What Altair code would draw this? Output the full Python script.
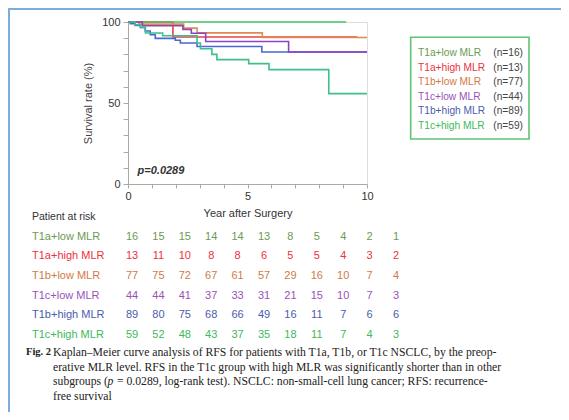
import altair as alt
import pandas as pd

# ---------------- data ----------------
groups = ["T1a+low MLR", "T1a+high MLR", "T1b+low MLR", "T1c+low MLR", "T1b+high MLR", "T1c+high MLR"]
n_labels = ["(n=16)", "(n=13)", "(n=77)", "(n=44)", "(n=89)", "(n=59)"]
line_colors = ["#45c46a", "#e8404c", "#e3894f", "#8c44c2", "#4a68d2", "#3dbf8a"]
text_colors = ["#6b9a52", "#f0303c", "#d27a48", "#9a52ba", "#4c5cae", "#3cba5c"]

# Kaplan-Meier step curves: time (years) and survival (%)
t1a_low_t = [0, 9.13]
t1a_low_s = [100, 100]
t1a_high_t = [0, 1.88, 9.6]
t1a_high_s = [100, 90.7, 90.7]
t1b_low_t = [0, 0.45, 2.33, 2.89, 5.62, 10]
t1b_low_s = [100, 98.7, 96.2, 93.3, 90.4, 90.4]
t1c_low_t = [0, 0.6, 2.3, 2.65, 3.25, 6.72, 10]
t1c_low_s = [100, 97.7, 95.4, 93.1, 88.0, 81.5, 81.5]
t1b_high_t = [0, 0.1, 0.3, 0.52, 0.72, 0.93, 1.14, 1.98, 2.19, 2.89, 5.6, 10]
t1b_high_s = [100, 98.9, 97.8, 96.6, 94.4, 92.1, 89.9, 88.7, 87.0, 84.9, 81.5, 81.5]
t1c_high_t = [0, 0.3, 0.52, 0.73, 1.45, 2.89, 3.03, 3.51, 3.72, 5.05, 5.9, 8.4, 10]
t1c_high_s = [100, 98.3, 96.6, 93.2, 91.5, 87.0, 83.5, 80.0, 76.8, 74.3, 70.6, 55.8, 55.8]

curve_t = [t1a_low_t, t1a_high_t, t1b_low_t, t1c_low_t, t1b_high_t, t1c_high_t]
curve_s = [t1a_low_s, t1a_high_s, t1b_low_s, t1c_low_s, t1b_high_s, t1c_high_s]

# patients at risk, years 0..10
risk_years = list(range(11))
risk_t1a_low = [16, 15, 15, 14, 14, 13, 8, 5, 4, 2, 1]
risk_t1a_high = [13, 11, 10, 8, 8, 6, 5, 5, 4, 3, 2]
risk_t1b_low = [77, 75, 72, 67, 61, 57, 29, 16, 10, 7, 4]
risk_t1c_low = [44, 44, 41, 37, 33, 31, 21, 15, 10, 7, 3]
risk_t1b_high = [89, 80, 75, 68, 66, 49, 16, 11, 7, 6, 6]
risk_t1c_high = [59, 52, 48, 43, 37, 35, 18, 11, 7, 4, 3]
risk = [risk_t1a_low, risk_t1a_high, risk_t1b_low, risk_t1c_low, risk_t1b_high, risk_t1c_high]

caption_lines = [
    "Kaplan\u2013Meier curve analysis of RFS for patients with T1a, T1b, or T1c NSCLC, by the preop-",
    "erative MLR level. RFS in the T1c group with high MLR was significantly shorter than in other",
    "free survival",
]

# ---------------- tables ----------------
curves = pd.DataFrame(
    [{"group": g, "t": t, "s": s} for g, ts, ss in zip(groups, curve_t, curve_s) for t, s in zip(ts, ss)]
)
risk_df = pd.DataFrame(
    [{"group": g, "year": y, "n": v} for g, vals in zip(groups, risk) for y, v in zip(risk_years, vals)]
)
group_df = pd.DataFrame({"group": groups, "nlab": n_labels})
one = pd.DataFrame({"a": [0]})

FONT = "Liberation Sans"
SERIF = "Liberation Serif"
AXC = "#b0a8a0"

x_scale = alt.Scale(domain=[0, 10], nice=False, zero=False)
y_scale = alt.Scale(domain=[0, 100], nice=False, zero=False)
line_color = alt.Scale(domain=groups, range=line_colors)
text_color = alt.Scale(domain=groups, range=text_colors)

x_axis = alt.Axis(
    values=risk_years, labelExpr="datum.value % 5 == 0 ? datum.label : ''",
    grid=False, tickSize=4, domainColor=AXC, tickColor=AXC, labelFlush=False,
    labelFont=FONT, labelFontSize=11, labelColor="#333", labelPadding=2,
    title="Year after Surgery", titleFont=FONT, titleFontSize=11, titleFontWeight="normal",
    titleColor="#333", titleY=29, titleBaseline="middle",
)
y_axis = alt.Axis(
    values=list(range(0, 101, 10)), labelExpr="datum.value % 50 == 0 ? datum.label : ''",
    grid=False, tickSize=5, domainColor=AXC, tickColor=AXC, labelFlush=False,
    labelFont=FONT, labelFontSize=11, labelColor="#333", labelPadding=3,
    title="Survival rate (%)", titleFont=FONT, titleFontSize=11, titleFontWeight="normal",
    titleColor="#444", titleX=-40, titleY=81, titleBaseline="middle",
)

draw_order = ["T1a+high MLR", "T1a+low MLR", "T1b+low MLR", "T1b+high MLR", "T1c+low MLR", "T1c+high MLR"]
line_layers = []
for g in draw_order:
    line_layers.append(
        alt.Chart(curves[curves["group"] == g]).mark_line(interpolate="step-after", strokeWidth=1.6).encode(
            x=alt.X("t:Q", scale=x_scale, axis=x_axis),
            y=alt.Y("s:Q", scale=y_scale, axis=y_axis),
            color=alt.Color("group:N", scale=line_color, legend=None),
        )
    )

p_df = pd.DataFrame({"t": [0.4], "s": [8.2], "label": ["p=0.0289"]})
p_text = alt.Chart(p_df).mark_text(
    align="left", baseline="middle", font=FONT, fontSize=11, fontStyle="italic", fontWeight="bold", color="#333"
).encode(x=alt.X("t:Q", scale=x_scale, axis=x_axis), y=alt.Y("s:Q", scale=y_scale, axis=y_axis), text="label:N")

km = alt.layer(*line_layers, p_text)

# ---------------- risk table ----------------
row_scale = alt.Scale(type="point", domain=groups, range=[214.7, 313], padding=0)
col_scale = alt.Scale(domain=[0, 10], range=[4, 268], nice=False, zero=False)
numbers = alt.Chart(risk_df).mark_text(font=FONT, fontSize=11, baseline="middle").encode(
    x=alt.X("year:Q", scale=col_scale, axis=None),
    y=alt.Y("group:N", scale=row_scale, axis=None),
    text="n:Q",
    color=alt.Color("group:N", scale=text_color, legend=None),
)
row_labels = alt.Chart(group_df).mark_text(font=FONT, fontSize=11, align="left", baseline="middle").encode(
    x=alt.value(-96),
    y=alt.Y("group:N", scale=row_scale, axis=None),
    text="group:N",
    color=alt.Color("group:N", scale=text_color, legend=None),
)
header = alt.Chart(one).mark_text(font=FONT, fontSize=10.5, align="left", baseline="middle", color="#333").encode(
    x=alt.value(-96), y=alt.value(194.7), text=alt.value("Patient at risk")
)
table = alt.layer(numbers, row_labels, header)

# ---------------- legend ----------------
leg_scale = alt.Scale(type="point", domain=groups, range=[31.3, 103.7], padding=0)
box = alt.Chart(one).mark_rect(fill="white", stroke="#62c274", strokeWidth=1.6).encode(
    x=alt.value(282.7), x2=alt.value(401), y=alt.value(15.3), y2=alt.value(117)
)
leg_names = alt.Chart(group_df).mark_text(font=FONT, fontSize=10.2, align="left", baseline="middle").encode(
    x=alt.value(290),
    y=alt.Y("group:N", scale=leg_scale, axis=None),
    text="group:N",
    color=alt.Color("group:N", scale=text_color, legend=None),
)
leg_n = alt.Chart(group_df).mark_text(font=FONT, fontSize=10.2, align="right", baseline="middle", color="#444").encode(
    x=alt.value(395),
    y=alt.Y("group:N", scale=leg_scale, axis=None),
    text="nlab:N",
)
legend = alt.layer(box, leg_names, leg_n)

# ---------------- caption & frame ----------------
CAP = 11.7


def cap(text, x, y, size=CAP, **kw):
    return alt.Chart(one).mark_text(font=SERIF, fontSize=size, align="left", baseline="middle", color="#222", **kw).encode(
        x=alt.value(x), y=alt.value(y), text=alt.value(text)
    )


caption = alt.layer(
    cap("Fig. 2", -102, 330, size=10.5, fontWeight="bold"),
    cap(caption_lines[0], -75, 330),
    cap(caption_lines[1], -75, 344.5),
    cap("subgroups (", -75, 359),
    cap("p", -20.5, 359, fontStyle="italic"),
    cap("= 0.0289, log-rank test). NSCLC: non-small-cell lung cancer; RFS: recurrence-", -11, 359),
    cap(caption_lines[2], -75, 373.5),
)
frame = alt.layer(
    alt.Chart(one).mark_rule(color="#7eaadc", strokeWidth=2).encode(
        x=alt.value(-120), x2=alt.value(440), y=alt.value(-13)
    ),
    alt.Chart(one).mark_rule(color="#7eaadc", strokeWidth=2).encode(
        x=alt.value(-119), y=alt.value(-14), y2=alt.value(400)
    ),
)

chart = (
    alt.layer(frame, km, table, legend, caption)
    .resolve_scale(x="independent", y="independent", color="independent")
    .properties(
        width=239, height=162, autosize="none",
        padding={"left": 120, "top": 14, "right": 194, "bottom": 228},
        background="white",
    )
    .configure_view(stroke=None)
    .configure(font=FONT)
)

chart.save("out.html", embed_options={"renderer": "svg", "actions": False})
